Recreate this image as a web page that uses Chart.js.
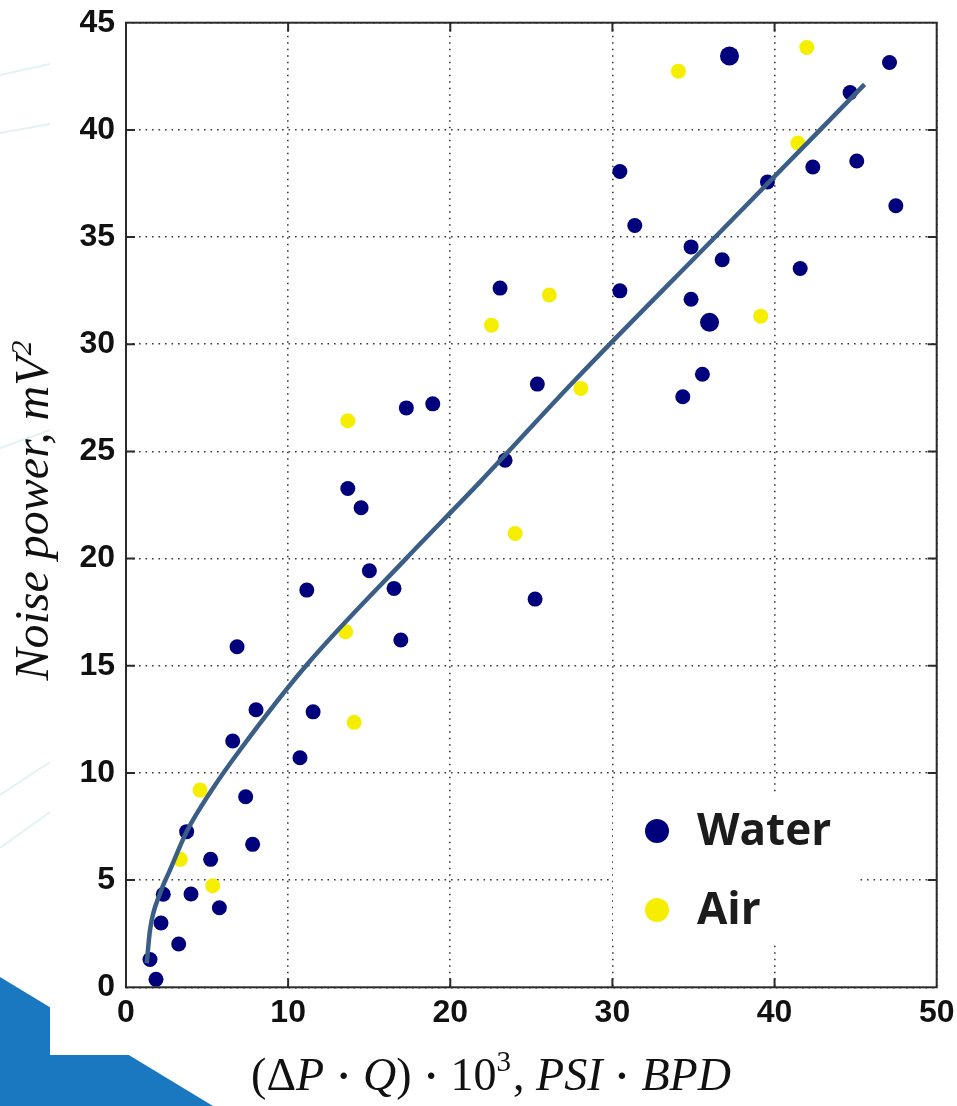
<!DOCTYPE html>
<html><head><meta charset="utf-8">
<script src="https://cdn.jsdelivr.net/npm/chart.js@4.4.0/dist/chart.umd.min.js"></script>
<style>html,body{margin:0;padding:0;background:#fff;overflow:hidden}canvas{display:block}</style>
</head><body>
<canvas id="c" width="957" height="1106"></canvas>
<script>
// ---- data ----
const waterX = [1.48,1.85,2.16,2.30,3.25,3.74,4.01,5.22,5.76,7.38,7.81,10.73,6.58,8.02,11.54,6.85,11.15,16.95,15.01,16.53,13.68,14.50,17.29,18.92,25.37,35.55,34.34,23.38,25.23,37.22,47.09,44.66,45.07,42.36,39.56,30.46,47.48,31.38,34.85,36.77,41.58,30.46,34.85,35.99,23.07];
const waterY = [1.30,0.37,3.00,4.34,2.02,7.26,4.35,5.97,3.71,8.89,6.67,10.71,11.49,12.95,12.85,15.89,18.53,16.20,19.43,18.61,23.27,22.37,27.03,27.22,28.14,28.60,27.55,24.59,18.11,43.45,43.14,41.74,38.55,38.27,37.57,38.06,36.46,35.54,34.54,33.94,33.53,32.49,32.10,31.02,32.62];
const airX = [4.57,3.35,5.35,13.55,14.07,13.68,28.05,24.00,34.07,41.99,41.44,26.11,22.54,39.15];
const airY = [9.20,5.97,4.74,16.59,12.36,26.43,27.94,21.17,42.74,43.84,39.39,32.30,30.89,31.31];
const fitX = [1.28,1.48,2.10,2.71,3.74,5.29,7.03,11.10,17.27,21.84,27.70,36.60,45.55];
const fitY = [1.12,2.67,4.38,5.47,7.26,9.20,11.07,15.00,20.00,23.58,28.33,35.20,42.12];
const seriesNames = ['Water','Air'];
const xTickValues = [0,10,20,30,40,50];
const yTickValues = [0,5,10,15,20,25,30,35,40,45];
const yTitle = 'Noise power, mV';
const yTitleSup = '2';
// x title pieces: [text, style]  (u = upright, i = italic, s = superscript, d = operator dot)
const xTitleParts = [['(','u'],['\u0394','u'],['P','i'],['\u00b7','d'],['Q','i'],[')','u'],['\u00b7','d'],['10','u'],['3','s'],[', ','u'],['PSI','i'],['\u00b7','d'],['BPD','i']];

const toPts = (xs, ys) => xs.map((x, i) => ({x, y: ys[i]}));
const NAVY = '#00007c', YEL = '#f6ee00', FIT = '#3b5e87';
const largeWaterMarks = [29, 43]; // two markers drawn slightly larger in the reference

const bgPlugin = {
  id: 'bg',
  beforeDraw(chart) {
    const c = chart.ctx;
    c.save();
    c.fillStyle = '#ffffff';
    c.fillRect(0, 0, chart.width, chart.height);
    c.strokeStyle = 'rgba(175,218,218,0.35)';
    c.lineWidth = 2;
    [[0,75,50,64],[0,133,50,124],[0,448,50,430],[0,795,50,762],[0,848,50,812]].forEach(l => {
      c.beginPath(); c.moveTo(l[0], l[1]); c.lineTo(l[2], l[3]); c.stroke();
    });
    c.fillStyle = '#1a78c0';
    c.beginPath(); c.moveTo(0, 977); c.lineTo(213, 1106); c.lineTo(0, 1106); c.closePath(); c.fill();
    c.fillStyle = '#ffffff';
    c.fillRect(50, 0, chart.width - 50, 1055);
    c.fillRect(238, 1055, chart.width - 238, 51);
    c.restore();
  }
};

const legendPlugin = {
  id: 'legendBox',
  afterDatasetsDraw(chart) {
    const c = chart.ctx;
    c.save();
    c.fillStyle = '#ffffff';
    c.fillRect(613, 793, 247, 152);
    const rowY = [831, 910];
    [0, 1].forEach((di, k) => {
      const ds = chart.data.datasets[di];
      c.fillStyle = ds.backgroundColor;
      c.beginPath(); c.arc(657, rowY[k], 12, 0, Math.PI * 2); c.fill();
      c.fillStyle = '#1c1c1c';
      c.font = 'bold 44px "Open Sans"';
      c.textAlign = 'left';
      c.textBaseline = 'alphabetic';
      c.fillText(ds.label, 697, rowY[k] + 14);
    });
    c.restore();
  }
};

const framePlugin = {
  id: 'frame',
  afterDraw(chart) {
    const c = chart.ctx, a = chart.chartArea;
    const xs = chart.scales.x, ys = chart.scales.y;
    c.save();
    c.strokeStyle = '#2a2a2a';
    c.lineWidth = 2;
    c.strokeRect(a.left, a.top, a.right - a.left, a.bottom - a.top);
    const tl = 9;
    c.beginPath();
    xTickValues.slice(1, -1).forEach(v => {
      const px = xs.getPixelForValue(v);
      c.moveTo(px, a.bottom); c.lineTo(px, a.bottom - tl);
      c.moveTo(px, a.top); c.lineTo(px, a.top + tl);
    });
    yTickValues.slice(1, -1).forEach(v => {
      const py = ys.getPixelForValue(v);
      c.moveTo(a.left, py); c.lineTo(a.left + tl, py);
      c.moveTo(a.right, py); c.lineTo(a.right - tl, py);
    });
    c.stroke();

    // y axis title
    c.fillStyle = '#111';
    c.save();
    c.translate(47.5, 511);
    c.rotate(-Math.PI / 2);
    c.font = 'italic 48px "Liberation Serif"';
    const w1 = c.measureText(yTitle).width;
    c.font = 'italic 30px "Liberation Serif"';
    const w2 = c.measureText(yTitleSup).width;
    const x0 = -(w1 + w2) / 2;
    c.font = 'italic 48px "Liberation Serif"';
    c.textBaseline = 'alphabetic'; c.textAlign = 'left';
    c.fillText(yTitle, x0, 0);
    c.font = 'italic 30px "Liberation Serif"';
    c.fillText(yTitleSup, x0 + w1 + 1, -17);
    c.restore();

    // x axis title, laid out piece by piece and centred
    const fonts = {u: '46px "Liberation Serif"', i: 'italic 46px "Liberation Serif"', s: '29px "Liberation Serif"', d: 'bold 40px "Liberation Serif"'};
    const dotSlot = 39;
    const widths = xTitleParts.map(p => {
      if (p[1] === 'd') return dotSlot;
      c.font = fonts[p[1]];
      return c.measureText(p[0]).width + (p[1] === 's' ? 2 : 0);
    });
    const total = widths.reduce((s, w) => s + w, 0);
    let x = 491 - total / 2;
    c.textBaseline = 'alphabetic';
    xTitleParts.forEach((p, i) => {
      c.font = fonts[p[1]];
      if (p[1] === 'd') {
        c.textAlign = 'center';
        c.fillText(p[0], x + dotSlot / 2, 1089);
      } else {
        c.textAlign = 'left';
        c.fillText(p[0], x, p[1] === 's' ? 1071 : 1090);
      }
      x += widths[i];
    });
    c.restore();
  }
};

new Chart(document.getElementById('c'), {
  type: 'scatter',
  data: {
    datasets: [
      {label: seriesNames[0], data: toPts(waterX, waterY), backgroundColor: NAVY, borderColor: NAVY,
       pointRadius: ctx => largeWaterMarks.includes(ctx.dataIndex) ? 9.5 : 7.5, pointBorderWidth: 0, order: 2},
      {label: seriesNames[1], data: toPts(airX, airY), backgroundColor: YEL, borderColor: YEL, pointRadius: 7.5, pointBorderWidth: 0, order: 3},
      {label: 'fit', type: 'line', data: toPts(fitX, fitY), borderColor: FIT, borderWidth: 4.5, pointRadius: 0, fill: false, showLine: true, cubicInterpolationMode: 'monotone', order: 1}
    ]
  },
  options: {
    responsive: false,
    animation: false,
    devicePixelRatio: 1,
    layout: {padding: {top: 22.7, right: 20.3, left: 0, bottom: 0}},
    plugins: {legend: {display: false}, tooltip: {enabled: false}},
    scales: {
      x: {
        type: 'linear', min: 0, max: 50,
        afterBuildTicks: s => { s.ticks = xTickValues.map(v => ({value: v})); },
        afterFit: s => { s.height = 1106 - 987.3; s.paddingLeft = 0; s.paddingRight = 0; },
        ticks: {font: {family: '"Liberation Sans"', size: 32, weight: 'bold'}, color: '#111', padding: 7, maxRotation: 0},
        grid: {color: '#3a3a3a', lineWidth: 1.6, drawTicks: false},
        border: {display: false, dash: [1.6, 4.9]}
      },
      y: {
        type: 'linear', min: 0, max: 45,
        afterBuildTicks: s => { s.ticks = yTickValues.map(v => ({value: v})); },
        afterFit: s => { s.width = 126; s.paddingTop = 0; s.paddingBottom = 0; },
        ticks: {font: {family: '"Liberation Sans"', size: 32, weight: 'bold'}, color: '#111', padding: 11},
        grid: {color: '#3a3a3a', lineWidth: 1.6, drawTicks: false},
        border: {display: false, dash: [1.6, 4.9]}
      }
    }
  },
  plugins: [bgPlugin, legendPlugin, framePlugin]
});
</script>
</body></html>
